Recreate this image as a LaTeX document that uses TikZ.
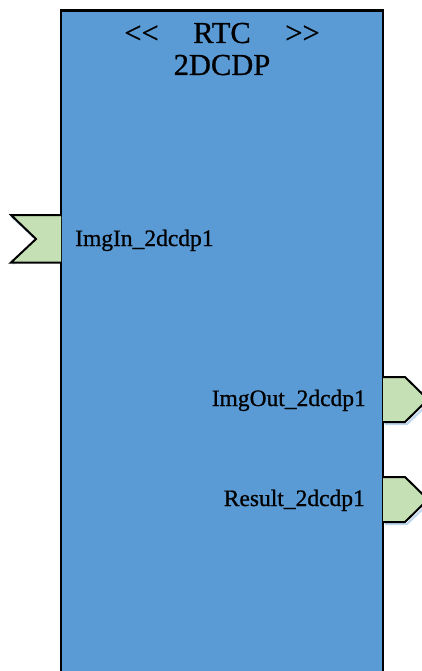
\documentclass[tikz,border=0pt]{standalone}
\usepackage{fontspec}
\setmainfont{Liberation Serif}[FakeBold=0.8]
\definecolor{compblue}{HTML}{5B9BD5}
\definecolor{portgreen}{HTML}{C5E0B4}
\definecolor{shadowblue}{HTML}{BDD7EE}
\tikzset{
  comp/.style={draw=black, line width=2.5pt, fill=compblue},
  port/.style={draw=black, line width=2pt, fill=portgreen, line join=miter},
  portshadow/.style={draw=shadowblue, line width=2pt},
  lbl/.style={inner sep=0pt, font=\fontsize{23.5}{24}\selectfont},
  ttl/.style={inner sep=0pt, font=\fontsize{30.5}{32}\selectfont}
}
\begin{document}
\begin{tikzpicture}[x=1pt,y=-1pt]
\useasboundingbox (0,0) rectangle (422,671);
\clip (0,0) rectangle (422,671);
% component box
\draw[comp] (61,10.5) rectangle (383,700);
% input port
\draw[portshadow] (13,264) -- (38,241) -- (13,218) -- (61,218);
\draw[port] (61,215) -- (11,215) -- (36,239) -- (11,262.5) -- (61,262.5);
% output ports
\draw[portshadow] (385,424) -- (407,424) -- (430,402);
\draw[port] (383,377) -- (405,377) -- (428,399.5) -- (405,422) -- (383,422);
\draw[portshadow] (385,524) -- (407,524) -- (430,502);
\draw[port] (383,477) -- (405,477) -- (428,499.5) -- (405,522) -- (383,522);
% title
\node[ttl, anchor=base] (st1) at (141.5,43) {{<}{<}};
\node[ttl, anchor=base] (st2) at (222,43) {RTC};
\node[ttl, anchor=base] (st3) at (302.5,43) {{>}{>}};
\node[ttl, anchor=base] (name) at (222,75) {2DCDP};
% labels
\node[lbl, anchor=base west] (inlbl) at (75,246) {ImgIn\_2dcdp1};
\node[lbl, anchor=base east] (outlbl) at (366,406) {ImgOut\_2dcdp1};
\node[lbl, anchor=base east] (reslbl) at (365,506) {Result\_2dcdp1};
\end{tikzpicture}
\end{document}
